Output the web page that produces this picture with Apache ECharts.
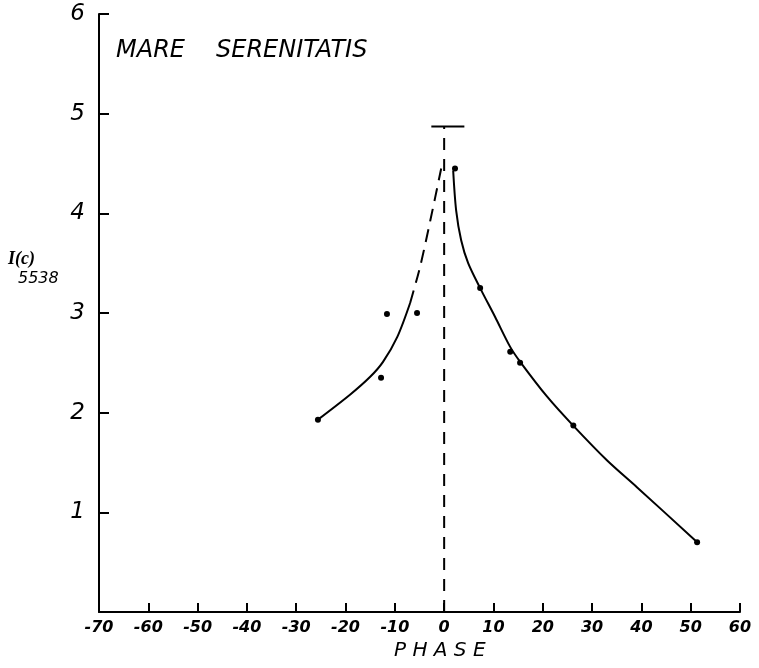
<!DOCTYPE html>
<html>
<head>
<meta charset="utf-8">
<script src="https://cdn.jsdelivr.net/npm/echarts@6/dist/echarts.min.js"></script>
<style>html,body{margin:0;padding:0;background:#fff}#c{width:759px;height:668px}</style>
</head>
<body>
<div id="c"></div>
<script>
// Observed points (phase, I(c) 5538)
var pointsX = [-25.6, -12.8, -11.6, -5.5, 2.2, 7.3, 13.4, 15.4, 26.2, 51.3];
var pointsY = [1.93, 2.35, 2.99, 3.0, 4.45, 3.25, 2.61, 2.50, 1.87, 0.70];
// Hand-drawn fitted curves
var leftSolidX = [-25.6, -19.1, -15.0, -12.4, -9.5, -6.9];
var leftSolidY = [1.93, 2.18, 2.36, 2.51, 2.76, 3.10];
var leftDashX = [-6.9, -4.9, -2.8, -0.6];
var leftDashY = [3.10, 3.46, 3.93, 4.45];
var rightSolidX = [1.83, 2.43, 3.45, 4.87, 7.30, 10.34, 13.39, 15.42, 20.89, 26.17, 33.06, 39.15, 51.32];
var rightSolidY = [4.43, 4.03, 3.73, 3.50, 3.25, 2.96, 2.66, 2.51, 2.16, 1.87, 1.52, 1.25, 0.70];
var zeroLineX = [0, 0];
var zeroLineY = [0, 4.87];
var capX = [-2.6, 4.1];
var capY = [4.87, 4.87];
var xTicks = [-70, -60, -50, -40, -30, -20, -10, 0, 10, 20, 30, 40, 50, 60];
var yTicks = [0, 1, 2, 3, 4, 5, 6];

function zip(a, b) { return a.map(function (v, i) { return [v, b[i]]; }); }

var chart = echarts.init(document.getElementById('c'));
var font = "'DejaVu Sans', sans-serif";
chart.setOption({
  animation: false,
  backgroundColor: '#fff',
  grid: { left: 99, right: 19, top: 14, bottom: 56 },
  xAxis: {
    type: 'value', min: -70, max: 60, interval: 10,
    axisLine: { onZero: false, lineStyle: { color: '#000', width: 2 } },
    axisTick: { inside: true, length: 9, lineStyle: { color: '#000', width: 2 } },
    splitLine: { show: false },
    axisLabel: {
      color: '#000', fontSize: 16, fontWeight: 'bold', fontStyle: 'italic',
      fontFamily: font, margin: 8,
      formatter: function (v) { return xTicks.indexOf(v) >= 0 ? String(v) : ''; }
    }
  },
  yAxis: {
    type: 'value', min: 0, max: 6, interval: 1,
    axisLine: { onZero: false, lineStyle: { color: '#000', width: 2 } },
    axisTick: { inside: true, length: 10, lineStyle: { color: '#000', width: 2 } },
    splitLine: { show: false },
    axisLabel: {
      color: '#000', fontSize: 23, fontStyle: 'italic', fontFamily: font, margin: 14,
      formatter: function (v) { return (v === 0 || yTicks.indexOf(v) < 0) ? '' : String(v); }
    }
  },
  graphic: [
    { type: 'text', left: 116, top: 39, style: { text: 'MARE', fontSize: 24, fontStyle: 'italic', fontFamily: font, fill: '#000' } },
    { type: 'text', left: 216, top: 39, style: { text: 'SERENITATIS', fontSize: 24, fontStyle: 'italic', fontFamily: font, fill: '#000' } },
    { type: 'text', left: 394, top: 641, style: { text: 'P H A S E', fontSize: 20, fontStyle: 'italic', fontFamily: font, fill: '#000' } },
    { type: 'text', left: 8, top: 250, style: { text: 'I(c)', fontSize: 18, fontWeight: 'bold', fontStyle: 'italic', fontFamily: 'Liberation Serif, serif', fill: '#000' } },
    { type: 'text', left: 18, top: 271, style: { text: '5538', fontSize: 16, fontStyle: 'italic', fontFamily: font, fill: '#000' } }
  ],
  series: [
    { type: 'line', data: zip(leftSolidX, leftSolidY), smooth: 0.3, showSymbol: false, lineStyle: { color: '#000', width: 2 } },
    { type: 'line', data: zip(leftDashX, leftDashY), smooth: 0.3, showSymbol: false, lineStyle: { color: '#000', width: 2, type: [13, 8] } },
    { type: 'line', data: zip(rightSolidX, rightSolidY), smooth: 0.3, showSymbol: false, lineStyle: { color: '#000', width: 2 } },
    { type: 'line', data: zip(zeroLineX, zeroLineY), showSymbol: false, lineStyle: { color: '#000', width: 2, type: [12, 9] } },
    { type: 'line', data: zip(capX, capY), showSymbol: false, lineStyle: { color: '#000', width: 2 } },
    { type: 'scatter', data: zip(pointsX, pointsY), symbolSize: 6, itemStyle: { color: '#000', opacity: 1 } }
  ]
});
</script>
</body>
</html>
